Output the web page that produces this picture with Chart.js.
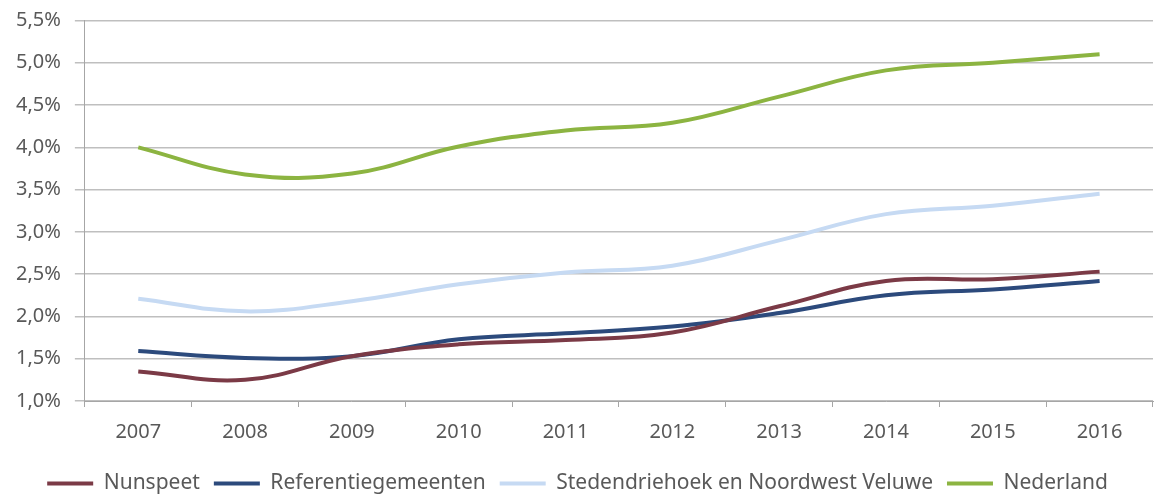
<!DOCTYPE html>
<html>
<head>
<meta charset="utf-8">
<script src="https://cdn.jsdelivr.net/npm/chart.js@4"></script>
<style>
    html, body { margin: 0; padding: 0; background: #fff; }
    #wrap { width: 1158px; height: 495px; }
</style>
</head>
<body>
<div id="wrap"><canvas id="chart"></canvas></div>
<script>
// Data
const years = ['2007', '2008', '2009', '2010', '2011', '2012', '2013', '2014', '2015', '2016'];
const nunspeet = [1.35, 1.25, 1.53, 1.67, 1.72, 1.81, 2.12, 2.42, 2.44, 2.53];
const referentie = [1.59, 1.51, 1.53, 1.73, 1.80, 1.88, 2.04, 2.25, 2.32, 2.42];
const stedendriehoek = [2.21, 2.06, 2.18, 2.38, 2.52, 2.60, 2.90, 3.21, 3.31, 3.45];
const nederland = [4.00, 3.68, 3.69, 4.01, 4.20, 4.29, 4.60, 4.91, 5.00, 5.10];
const yTicks = [1.0, 1.5, 2.0, 2.5, 3.0, 3.5, 4.0, 4.5, 5.0, 5.5];

const fontFamily = '"Noto Sans", "Open Sans", sans-serif';
const textColor = '#595959';

function line(label, data, color) {
    return {
        label: label,
        data: data,
        borderColor: color,
        backgroundColor: color,
        borderWidth: 4,
        tension: 0.4,
        pointRadius: 0,
        pointHoverRadius: 0,
        pointStyle: 'line',
        fill: false
    };
}

new Chart(document.getElementById('chart'), {
    type: 'line',
    data: {
        labels: years,
        datasets: [
            line('Nunspeet', nunspeet, '#7b3a46'),
            line('Referentiegemeenten', referentie, '#2c4a7c'),
            line('Stedendriehoek en Noordwest Veluwe', stedendriehoek, '#c6daf3'),
            line('Nederland', nederland, '#8cb441')
        ]
    },
    options: {
        responsive: true,
        maintainAspectRatio: false,
        animation: false,
        layout: {
            padding: { top: 0, right: 5, left: 2, bottom: -9 }
        },
        plugins: {
            legend: {
                position: 'bottom',
                labels: {
                    usePointStyle: true,
                    pointStyleWidth: 46,
                    boxHeight: 4,
                    padding: 14,
                    color: textColor,
                    font: { family: fontFamily, size: 21 }
                }
            },
            tooltip: { enabled: false }
        },
        scales: {
            x: {
                offset: true,
                grid: {
                    offset: true,
                    drawOnChartArea: false,
                    drawTicks: true,
                    tickLength: 6,
                    color: '#a6a6a6'
                },
                border: { color: '#a6a6a6' },
                ticks: {
                    color: textColor,
                    padding: 13,
                    font: { family: fontFamily, size: 20 }
                },
                afterFit: function(scale) {
                    scale.height += 2;
                }
            },
            y: {
                min: 1,
                max: 5.5,
                afterBuildTicks: function(axis) {
                    axis.ticks = yTicks.map(v => ({ value: v }));
                },
                grid: {
                    color: '#bfbfbf',
                    lineWidth: 1.5,
                    tickLength: 10
                },
                border: { color: '#a6a6a6' },
                ticks: {
                    color: textColor,
                    padding: 14,
                    font: { family: fontFamily, size: 20, lineHeight: 0.65 },
                    callback: function(value) {
                        return value.toFixed(1).replace('.', ',') + '%';
                    }
                }
            }
        }
    }
});
</script>
</body>
</html>
